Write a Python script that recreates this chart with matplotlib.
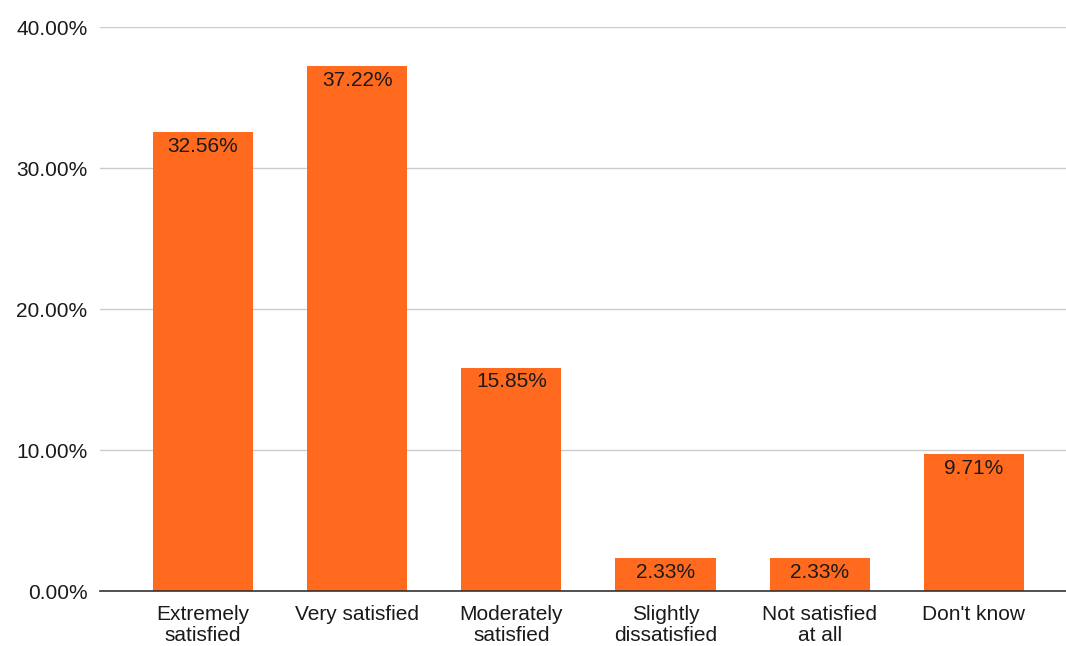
import matplotlib
matplotlib.use("Agg")
import matplotlib.pyplot as plt
from matplotlib.ticker import FuncFormatter

categories = ["Extremely\nsatisfied", "Very satisfied", "Moderately\nsatisfied",
              "Slightly\ndissatisfied", "Not satisfied\nat all", "Don't know"]
values = [32.56, 37.22, 15.85, 2.33, 2.33, 9.71]
yticks = [0, 10, 20, 30, 40]

plt.rcParams['font.family'] = ['Liberation Sans', 'DejaVu Sans']
fs = 15

fig = plt.figure(figsize=(10.66, 6.46), dpi=100)
ax = fig.add_axes([0.0938, 0.0851, 0.9062, 0.8731])

bars = ax.bar(range(len(values)), values, width=0.65, color='#FF6A1F', zorder=3)

# value labels inside the top of each bar
for b, v in zip(bars, values):
    ax.annotate(f"{v:.2f}%", (b.get_x() + b.get_width() / 2, v),
                xytext=(0, -3.5), textcoords='offset points',
                ha='center', va='top', fontsize=fs, color='#1a1a1a', zorder=4)

ax.set_xlim(-0.668, 5.597)
ax.set_ylim(0, 40)
ax.set_yticks(yticks)
ax.yaxis.set_major_formatter(FuncFormatter(lambda y, _: f"{y:.2f}%"))
ax.set_xticks(range(len(categories)))
ax.set_xticklabels(categories, fontsize=fs, color='#1a1a1a', linespacing=1.15)
ax.tick_params(axis='y', labelsize=fs, labelcolor='#1a1a1a', length=0, pad=9)
ax.tick_params(axis='x', length=0, pad=10)

ax.grid(axis='y', color='#CCCCCC', linewidth=1, zorder=0)
for s in ['top', 'right', 'left']:
    ax.spines[s].set_visible(False)
ax.spines['bottom'].set_color('#333333')
ax.spines['bottom'].set_linewidth(1.2)
ax.spines['bottom'].set_zorder(5)

fig.savefig("out.png", dpi=100, facecolor='white')
